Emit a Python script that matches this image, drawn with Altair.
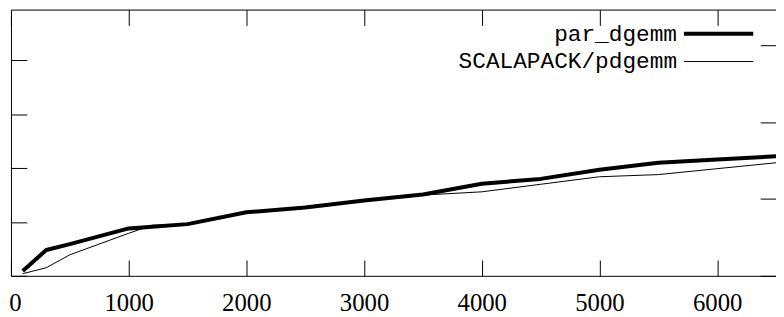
import altair as alt
import pandas as pd

# ---- data ----
sizes = [100, 300, 500, 1000, 1200, 1500, 2000, 2500, 3000, 3500, 4000, 4500, 5000, 5500, 6000, 6500]
par_dgemm = [0.09, 0.48, 0.59, 0.88, 0.91, 0.96, 1.18, 1.27, 1.40, 1.51, 1.71, 1.80, 1.97, 2.10, 2.16, 2.22]
scalapack = [0.04, 0.15, 0.39, 0.79, 0.94, 0.95, 1.18, 1.26, 1.40, 1.50, 1.56, 1.70, 1.84, 1.88, 1.99, 2.10]
series_names = ["par_dgemm", "SCALAPACK/pdgemm"]
series_widths = [4, 1]
x_ticks = [0, 1000, 2000, 3000, 4000, 5000, 6000]
y_ticks = [0, 1, 2, 3, 4, 5]
y2_ticks = [0, 1, 2, 3]

rows = []
for name, vals in zip(series_names, [par_dgemm, scalapack]):
    for s, v in zip(sizes, vals):
        rows.append({"n": s, "perf": v, "series": name})
df = pd.DataFrame(rows)

W, H = 773, 269
TICK = 16


def tick_axis(**kw):
    # gnuplot-style inward ticks drawn as short dashed grid lines starting at the axis
    base = dict(
        domainColor="black",
        domainWidth=1,
        ticks=False,
        grid=True,
        gridColor="black",
        gridWidth=1,
        gridOpacity=1,
        gridDash=[TICK, 4000],
        title="",
    )
    base.update(kw)
    return alt.Axis(**base)


x_scale = alt.Scale(domain=[0, 6500], nice=False, zero=False)

lines = alt.Chart(df).mark_line(color="black", strokeJoin="round").encode(
    x=alt.X(
        "n:Q",
        scale=x_scale,
        axis=tick_axis(
            orient="bottom",
            values=x_ticks,
            format="d",
            labelFont="Liberation Serif",
            labelFontSize=25,
            labelColor="black",
            labelPadding=15,
            labelFlush=False,
            labelOverlap=False,
            labelBound=False,
            labelOffset={"condition": {"test": "datum.value === 0", "value": 4}, "value": 0},
        ),
    ),
    y=alt.Y(
        "perf:Q",
        scale=alt.Scale(domain=[0, 4.945], nice=False, zero=False),
        axis=tick_axis(orient="left", values=y_ticks, labels=False),
    ),
    strokeWidth=alt.StrokeWidth(
        "series:N",
        scale=alt.Scale(domain=series_names, range=series_widths),
        legend=alt.Legend(
            orient="none",
            legendX=650,
            legendY=13,
            title="",
            padding=0,
            symbolType="M2.64,0H12.64",
            symbolSize=196,
            symbolStrokeColor="black",
            labelAlign="right",
            labelOffset=0,
            labelLimit=500,
            labelFont="Liberation Mono",
            labelFontSize=23,
            labelColor="black",
            rowPadding=4,
        ),
    ),
    detail="series:N",
)

mirror = alt.Chart(df).mark_line(opacity=0).encode(
    x=alt.X(
        "n:Q",
        scale=x_scale,
        axis=tick_axis(orient="top", values=x_ticks, labels=False),
    ),
    y=alt.Y(
        "perf:Q",
        scale=alt.Scale(domain=[0, 3.47], nice=False, zero=False),
        axis=tick_axis(orient="right", values=y2_ticks, labels=False, domain=False),
    ),
    detail="series:N",
)

chart = (
    alt.layer(lines, mirror)
    .resolve_scale(y="independent")
    .resolve_axis(x="independent", y="independent")
    .properties(
        width=W,
        height=H,
        padding={"left": 3, "top": 0, "right": 0, "bottom": 40},
        autosize=alt.AutoSizeParams(type="none"),
        background="white",
    )
    .configure_view(stroke="transparent")
)

chart.save("out.html", embed_options={"renderer": "svg", "actions": False})
